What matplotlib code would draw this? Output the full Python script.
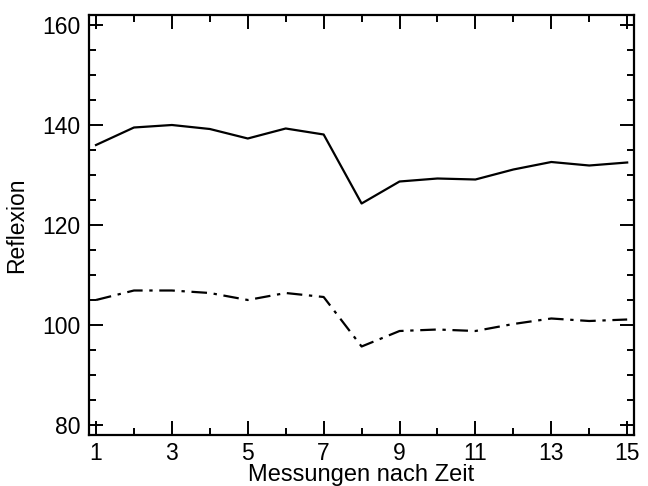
import matplotlib
matplotlib.use("Agg")
import matplotlib.pyplot as plt
from matplotlib.ticker import MultipleLocator

# Messungen 1..15
messung = list(range(1, 16))
reflexion_a = [136.0, 139.5, 140.0, 139.2, 137.3, 139.3, 138.1, 124.3,
               128.7, 129.3, 129.1, 131.1, 132.6, 131.9, 132.5]
reflexion_b = [105.0, 106.9, 106.9, 106.4, 105.0, 106.4, 105.6, 95.7,
               98.8, 99.1, 98.8, 100.2, 101.3, 100.8, 101.1]

plt.rcParams["font.family"] = ["Liberation Sans", "DejaVu Sans"]

fig = plt.figure(figsize=(6.48, 4.86), dpi=100)
ax = fig.add_axes([89 / 648, 1 - 435 / 486, 545 / 648, 420 / 486])

ax.plot(messung, reflexion_a, color="black", lw=1.6)
ax.plot(messung, reflexion_b, color="black", lw=1.6, dashes=(7, 3, 1.5, 3))

ax.set_xlim(0.815, 15.18)
ax.set_ylim(78, 162)
ax.xaxis.set_major_locator(MultipleLocator(2))
ax.xaxis.set_minor_locator(MultipleLocator(1))
ax.yaxis.set_major_locator(MultipleLocator(20))
ax.yaxis.set_minor_locator(MultipleLocator(5))
ax.set_xticks(range(1, 16, 2))

ax.tick_params(which="both", direction="in", top=True, right=True,
               width=1.4, labelsize=16.5, pad=6)
ax.tick_params(axis="x", pad=5)
ax.tick_params(which="major", length=10)
ax.tick_params(which="minor", length=5)
for s in ax.spines.values():
    s.set_linewidth(1.6)

ax.set_xlabel("Messungen nach Zeit", fontsize=17, labelpad=-1)
ax.set_ylabel("Reflexion", fontsize=16.5, labelpad=10)

fig.savefig("out.png", dpi=100)
